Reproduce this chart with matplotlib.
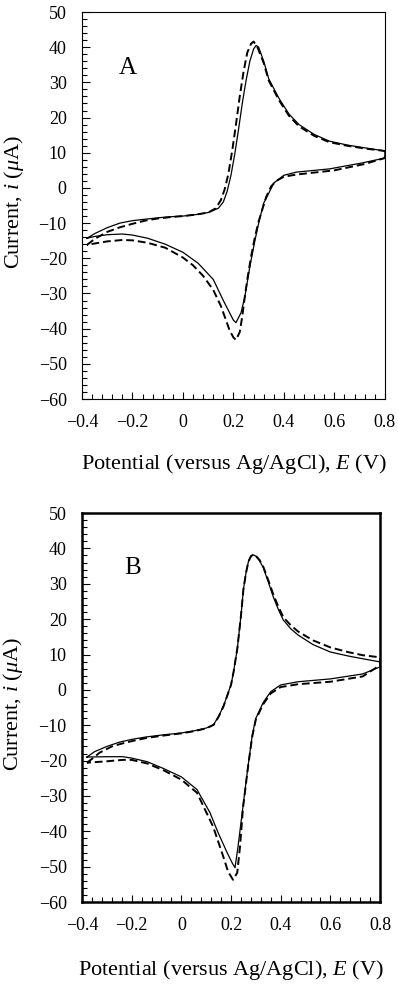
import matplotlib
matplotlib.use("Agg")
import matplotlib.pyplot as plt
from matplotlib.ticker import MultipleLocator

plt.rcParams['font.family'] = ['Liberation Serif', 'DejaVu Serif']
plt.rcParams['mathtext.fontset'] = 'custom'
plt.rcParams['mathtext.rm'] = 'Liberation Serif'
plt.rcParams['mathtext.it'] = 'Liberation Serif:italic'

# ---- panel A: solid curve (forward then return scan) ----
a_solid_E = [-0.38, -0.35, -0.30, -0.25, -0.20, -0.15, -0.10, -0.05, 0.00, 0.05, 0.10, 0.14,
             0.16, 0.175, 0.19, 0.205, 0.22, 0.235, 0.25, 0.265, 0.28, 0.29, 0.30, 0.32, 0.34,
             0.38, 0.42, 0.46, 0.52, 0.58, 0.65, 0.72, 0.80,
             0.80, 0.71, 0.58, 0.45, 0.40, 0.36, 0.34, 0.32, 0.30, 0.285, 0.265, 0.245, 0.23,
             0.21, 0.20, 0.185, 0.16, 0.12, 0.06, 0.00, -0.07, -0.14, -0.20, -0.24, -0.30,
             -0.35, -0.38]
a_solid_i = [-14.3, -13.0, -11.3, -10.0, -9.3, -8.9, -8.5, -8.2, -8.0, -7.6, -7.0, -5.8,
             -4.0, -1.0, 3.5, 9.5, 16.5, 24.0, 30.5, 36.0, 39.5, 40.5, 40.0, 36.0, 31.0,
             25.5, 21.0, 18.0, 15.2, 13.3, 12.2, 11.4, 10.5,
             8.5, 7.1, 5.4, 4.5, 3.6, 1.4, -1.5, -4.3, -10.0, -15.0, -22.4, -31.0, -35.5,
             -38.3, -37.6, -35.5, -32.0, -26.0, -21.4, -18.3, -16.0, -14.3, -13.4, -13.1, -13.3,
             -13.8, -14.3]

# ---- panel A: dashed curve ----
a_dash_E = [-0.38, -0.35, -0.30, -0.25, -0.20, -0.15, -0.10, -0.05, 0.00, 0.05, 0.10, 0.13,
            0.15, 0.165, 0.18, 0.195, 0.21, 0.225, 0.24, 0.255, 0.27, 0.28, 0.295, 0.32, 0.34,
            0.38, 0.42, 0.46, 0.52, 0.58, 0.65, 0.72, 0.80,
            0.80, 0.72, 0.60, 0.50, 0.45, 0.40, 0.37, 0.35, 0.33, 0.30, 0.285, 0.27, 0.255,
            0.245, 0.235, 0.225, 0.21, 0.20, 0.185, 0.17, 0.15, 0.12, 0.08, 0.04, 0.00, -0.07,
            -0.14, -0.20, -0.24, -0.30, -0.35, -0.38]
a_dash_i = [-16.2, -14.5, -12.5, -11.2, -10.2, -9.3, -8.7, -8.3, -8.0, -7.6, -7.0, -5.8,
            -3.5, -0.5, 4.0, 10.5, 18.0, 26.0, 33.0, 38.5, 41.0, 41.6, 40.0, 35.5, 30.5,
            25.0, 20.5, 17.5, 14.8, 13.0, 12.0, 11.2, 10.5,
            8.5, 6.8, 5.0, 4.2, 3.8, 3.2, 2.0, 0.5, -2.5, -9.5, -14.0, -19.5, -26.0,
            -31.0, -36.5, -41.0, -43.2, -42.5, -40.5, -37.5, -33.5, -29.0, -25.0, -22.0, -19.8, -17.0,
            -15.6, -14.9, -14.8, -15.2, -15.8, -16.2]

# ---- panel B: solid curve ----
b_solid_E = [-0.38, -0.35, -0.30, -0.25, -0.20, -0.14, -0.07, 0.00, 0.05, 0.10, 0.13, 0.15,
             0.17, 0.185, 0.20, 0.21, 0.225, 0.24, 0.25, 0.26, 0.27, 0.28, 0.29, 0.30, 0.315,
             0.33, 0.35, 0.37, 0.39, 0.41, 0.44, 0.47, 0.53, 0.60, 0.67, 0.73, 0.80,
             0.80, 0.73, 0.60, 0.47, 0.40, 0.36, 0.33, 0.30, 0.285, 0.268, 0.248, 0.228, 0.216,
             0.205, 0.184, 0.148, 0.115, 0.063, 0.00, -0.07, -0.138, -0.20, -0.235, -0.30, -0.38]
b_solid_i = [-19.0, -17.5, -16.0, -14.8, -14.0, -13.3, -12.7, -12.2, -11.6, -10.8, -9.8, -7.5,
             -4.5, -1.5, 1.5, 5.0, 11.5, 21.0, 28.5, 33.0, 36.3, 37.8, 38.2, 37.8, 36.5,
             34.5, 30.5, 26.3, 22.8, 19.8, 17.3, 15.5, 12.8, 10.7, 9.6, 8.8, 7.9,
             6.5, 4.5, 3.1, 2.3, 1.4, -0.5, -3.5, -8.0, -13.0, -21.8, -33.0, -44.4, -50.3,
             -49.0, -46.0, -40.4, -34.7, -28.2, -24.6, -22.3, -20.3, -19.3, -18.9, -18.9, -19.0]

# ---- panel B: dashed curve ----
b_dash_E = [-0.38, -0.35, -0.33, -0.28, -0.24, -0.20, -0.14, -0.07, 0.00, 0.05, 0.10, 0.13,
            0.15, 0.17, 0.185, 0.20, 0.21, 0.225, 0.24, 0.25, 0.26, 0.27, 0.28, 0.29, 0.30,
            0.315, 0.33, 0.35, 0.37, 0.39, 0.41, 0.44, 0.47, 0.53, 0.60, 0.67, 0.73, 0.80,
            0.80, 0.73, 0.60, 0.47, 0.40, 0.36, 0.33, 0.30, 0.285, 0.268, 0.248, 0.236, 0.225,
            0.208, 0.188, 0.168, 0.128, 0.063, 0.00, -0.07, -0.138, -0.20, -0.235, -0.30, -0.38]
b_dash_i = [-20.6, -19.0, -17.8, -16.0, -15.2, -14.5, -13.6, -12.9, -12.3, -11.7, -10.9, -9.9,
            -7.6, -4.6, -1.6, 1.4, 5.0, 11.5, 21.0, 28.5, 33.0, 36.3, 37.8, 38.3, 37.9,
            36.7, 34.8, 31.0, 27.0, 23.6, 20.6, 18.3, 16.5, 14.0, 12.0, 10.7, 9.8, 9.2,
            7.0, 3.8, 2.3, 1.6, 0.8, -1.0, -4.0, -8.3, -13.3, -22.0, -33.5, -44.4, -51.7,
            -53.7, -51.4, -47.0, -38.7, -29.1, -25.4, -22.8, -20.8, -19.8, -19.8, -20.2, -20.6]

x_ticks = [-0.4, -0.2, 0, 0.2, 0.4, 0.6, 0.8]
x_tick_labels = ['\u22120.4', '\u22120.2', '0', '0.2', '0.4', '0.6', '0.8']

fig = plt.figure(figsize=(3.98, 9.84), dpi=100)
axA = fig.add_axes([0.206, 0.5945, 0.761, 0.3933])
axB = fig.add_axes([0.206, 0.0833, 0.749, 0.3953])

panels = [
    (axA, a_solid_E, a_solid_i, a_dash_E, a_dash_i, 'A', 0.8, (0.152, 0.855), -0.137, -0.185),
    (axB, b_solid_E, b_solid_i, b_dash_E, b_dash_i, 'B', 1.8, (0.171, 0.859), -0.143, -0.19),
]

for ax, sE, si, dE, di, tag, spw, tagpos, xly, ylx in panels:
    ax.plot(sE, si, color='black', lw=0.9)
    ax.plot(dE, di, color='black', lw=1.4, linestyle=(0, (4.0, 2.0)))
    ax.set_xlim(-0.4, 0.8)
    ax.set_ylim(-60, 50)
    ax.set_xticks(x_ticks)
    ax.set_xticklabels(x_tick_labels)
    ax.xaxis.set_minor_locator(MultipleLocator(0.04))
    ax.yaxis.set_major_locator(MultipleLocator(10))
    ax.yaxis.set_minor_locator(MultipleLocator(2))
    ax.tick_params(which='both', direction='in', top=False, right=False,
                   width=0.8, labelsize=13)
    ax.tick_params(axis='y', which='major', length=6, pad=11)
    ax.tick_params(axis='y', which='minor', length=3.5)
    ax.tick_params(axis='x', which='major', length=5, pad=11)
    ax.tick_params(axis='x', which='minor', length=3.5)
    for s in ax.spines.values():
        s.set_linewidth(spw)
    ax.set_xlabel('Potential (versus Ag/AgCl), $E$ (V)', fontsize=16)
    ax.set_ylabel('Current, $i$ ($\\mu$A)', fontsize=16)
    ax.xaxis.set_label_coords(0.5, xly)
    ax.yaxis.set_label_coords(ylx, 0.51)
    ax.text(tagpos[0], tagpos[1], tag, transform=ax.transAxes, fontsize=18,
            ha='center', va='center')

fig.savefig('out.png', dpi=100)
